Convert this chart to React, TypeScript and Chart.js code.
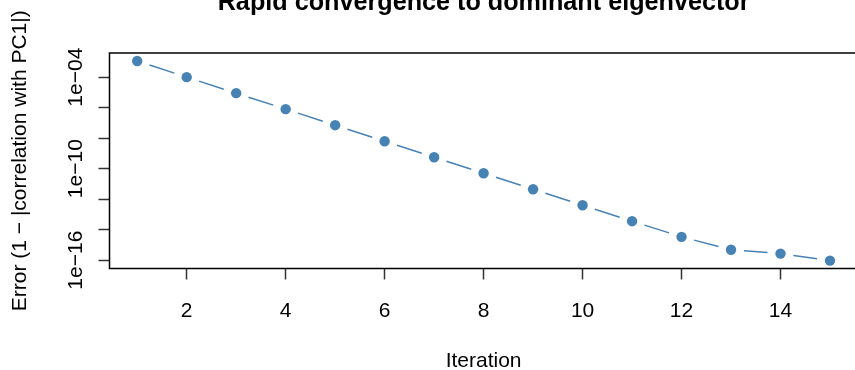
import { useEffect, useRef } from "react";
import { Chart, registerables } from "chart.js";

Chart.register(...registerables);

// Power-iteration error against the leading principal component
const iterations = [1, 2, 3, 4, 5, 6, 7, 8, 9, 10, 11, 12, 13, 14, 15];
const errors = [
  1.15e-3, 1.0e-4, 8.9e-6, 8.0e-7, 7.1e-8, 6.3e-9, 5.6e-10, 5.0e-11, 4.5e-12,
  4.0e-13, 3.6e-14, 3.4e-15, 4.8e-16, 2.7e-16, 9.4e-17,
];

const xTickValues = [2, 4, 6, 8, 10, 12, 14];
const yTickValues = [1e-4, 1e-6, 1e-8, 1e-10, 1e-12, 1e-14, 1e-16];
const yTickLabels = ["1e\u221204", "", "", "1e\u221210", "", "", "1e\u221216"];

const titleText = "Rapid convergence to dominant eigenvector";
const xTitle = "Iteration";
const yTitle = "Error (1 \u2212 |correlation with PC1|)";

const FONT = "'Liberation Sans', Arial, Helvetica, sans-serif";
const STEEL = "#4682B4";
const GAP = 13; // space left open around each point on the connecting line

const boxPlugin = {
  id: "plotBox",
  afterDatasetsDraw(chart: any) {
    const { ctx, chartArea } = chart;
    ctx.save();
    ctx.strokeStyle = "#000";
    ctx.lineWidth = 1.5;
    ctx.strokeRect(chartArea.left, chartArea.top, chartArea.right - chartArea.left, chartArea.bottom - chartArea.top);
    ctx.restore();
  },
};

export default function App() {
  const canvasRef = useRef<HTMLCanvasElement | null>(null);

  useEffect(() => {
    document.body.style.margin = "0";
    const canvas = canvasRef.current;
    if (!canvas) return;

    const chart = new Chart(canvas, {
      type: "line",
      data: {
        datasets: [
          {
            data: iterations.map((x, i) => ({ x, y: errors[i] })),
            borderColor: STEEL,
            borderWidth: 1.5,
            backgroundColor: STEEL,
            pointBackgroundColor: STEEL,
            pointBorderWidth: 0,
            pointRadius: 5.2,
            tension: 0,
            fill: false,
            clip: false,
            segment: {
              borderDash: (ctx: any) => {
                const len = Math.hypot(ctx.p1.x - ctx.p0.x, ctx.p1.y - ctx.p0.y);
                return [Math.max(len - 2 * GAP, 0), len + 50 + ctx.p0DataIndex * 0.01];
              },
              borderDashOffset: -GAP,
            },
          } as any,
        ],
      },
      options: {
        responsive: false,
        animation: false,
        events: [],
        layout: { padding: { left: 0, right: 22.3, top: 0, bottom: 0 } },
        plugins: {
          legend: { display: false },
          tooltip: { enabled: false },
          title: {
            display: true,
            text: titleText,
            fullSize: false,
            color: "#000",
            font: { family: FONT, size: 25.2, weight: "bold", lineHeight: 1 },
            padding: { top: -9.4, bottom: 37.2 },
          },
        },
        scales: {
          x: {
            type: "linear",
            min: 0.44,
            max: 15.56,
            bounds: "data",
            afterBuildTicks: (scale: any) => {
              scale.ticks = xTickValues.map((v) => ({ value: v }));
            },
            afterFit: (scale: any) => {
              scale.height = 101.5;
            },
            border: { display: false },
            grid: {
              drawOnChartArea: false,
              drawTicks: true,
              tickLength: 11,
              tickColor: "#333",
              tickWidth: 1.5,
              color: "#333",
            },
            ticks: {
              color: "#000",
              font: { family: FONT, size: 21 },
              padding: 19,
              maxRotation: 0,
              autoSkip: false,
              callback: (v: any) => String(v),
            },
            title: {
              display: true,
              text: xTitle,
              color: "#000",
              font: { family: FONT, size: 21, lineHeight: 1 },
              padding: { top: 0, bottom: -1.3 },
            },
          },
          y: {
            type: "logarithmic",
            min: 2.85e-17,
            max: 3.83e-3,
            bounds: "data",
            afterBuildTicks: (scale: any) => {
              scale.ticks = yTickValues.map((v) => ({ value: v }));
            },
            afterFit: (scale: any) => {
              scale.width = 109.5;
            },
            border: { display: false },
            grid: {
              drawOnChartArea: false,
              drawTicks: true,
              tickLength: 11,
              tickColor: "#333",
              tickWidth: 1.5,
              color: "#333",
            },
            ticks: {
              color: "#000",
              font: { family: FONT, size: 21 },
              padding: -7.5,
              minRotation: 90,
              maxRotation: 90,
              crossAlign: "center",
              autoSkip: false,
              callback: (_v: any, i: number) => yTickLabels[i],
            },
            title: {
              display: true,
              text: yTitle,
              color: "#000",
              font: { family: FONT, size: 21, lineHeight: 1 },
              padding: { top: 10, bottom: 0 },
            },
          },
        },
      } as any,
      plugins: [boxPlugin],
    });

    return () => chart.destroy();
  }, []);

  return (
    <div style={{ width: 855, height: 370, overflow: "hidden", background: "#fff" }}>
      <canvas ref={canvasRef} width={880} height={370} style={{ width: 880, height: 370, display: "block" }} />
    </div>
  );
}
